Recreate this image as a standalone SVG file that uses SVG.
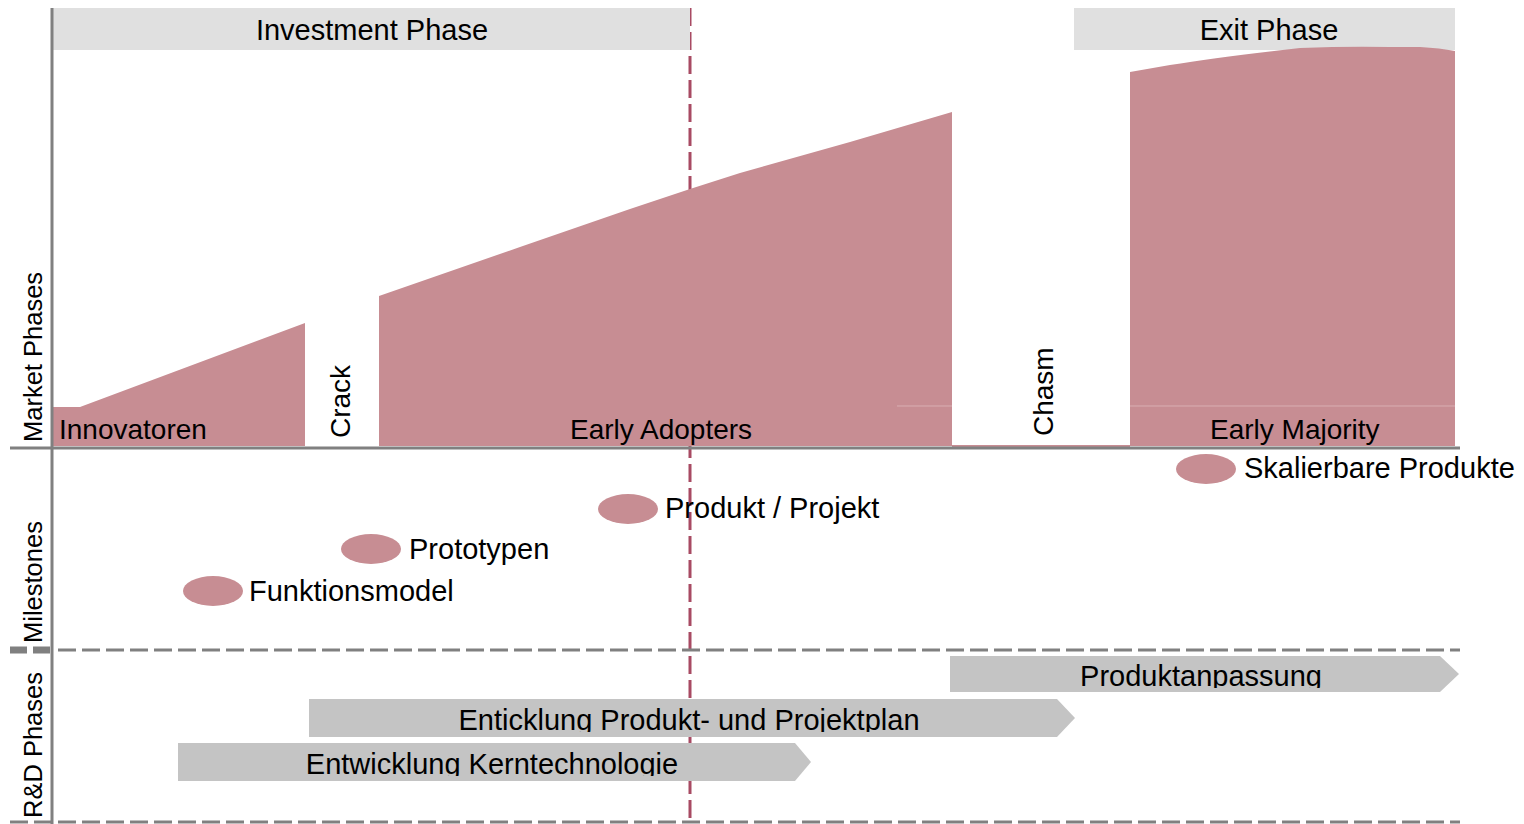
<svg xmlns="http://www.w3.org/2000/svg" width="1524" height="824" viewBox="0 0 1524 824">
  <style>
    text { font-family: "Liberation Sans", Arial, sans-serif; fill: #000; }
    .hdr { fill: #e0e0e0; }
    .area { fill: #c78d93; }
    .lbl { font-size: 28px; }
    .ms { font-size: 29px; }
    .axis-lbl { font-size: 25.5px; }
    .bar { fill: #c4c4c4; }
    .axis { stroke: #808080; stroke-width: 3; fill: none; }
    .dash { stroke: #808080; stroke-width: 3; stroke-dasharray: 18 6; fill: none; }
    .marker-line { stroke: #a84a63; stroke-width: 3; stroke-dasharray: 18 6; fill: none; }
    .dot { fill: #c78d93; }
  </style>
  <defs>
    <clipPath id="clip-bar1"><rect x="940" y="650" width="520" height="38"/></clipPath>
    <clipPath id="clip-bar2"><rect x="300" y="695" width="780" height="37"/></clipPath>
    <clipPath id="clip-bar3"><rect x="170" y="740" width="650" height="36"/></clipPath>
  </defs>

  <rect width="1524" height="824" fill="#ffffff"/>

  <!-- milestone marker line (behind the market areas) -->
  <line class="marker-line" x1="690" y1="8" x2="690" y2="824"/>

  <!-- phase headers -->
  <g id="investment-phase">
    <rect class="hdr" x="53" y="8" width="637" height="42"/>
    <text class="ms" x="372" y="40" text-anchor="middle">Investment Phase</text>
  </g>
  <g id="exit-phase">
    <rect class="hdr" x="1074" y="8" width="381" height="42"/>
    <text class="ms" x="1269" y="40" text-anchor="middle">Exit Phase</text>
  </g>

  <!-- market phases -->
  <g id="innovatoren">
    <path class="area" d="M53,407 L80,407 L305,323 L305,446 L53,446 Z"/>
    <text class="lbl" x="59" y="439">Innovatoren</text>
  </g>
  <g id="crack">
    <text class="lbl" transform="translate(350,438) rotate(-90)">Crack</text>
  </g>
  <g id="early-adopters">
    <path class="area" d="M379,296 L520,247 L630,209 L690,189 L740,173 L850,142 L952,112 L952,446 L379,446 Z"/>
    <line x1="897" y1="406" x2="952" y2="406" stroke="#d9aeb2" stroke-width="1"/>
    <text class="lbl" x="570" y="439">Early Adopters</text>
  </g>
  <g id="chasm">
    <rect class="area" x="952" y="445" width="178" height="2"/>
    <text class="lbl" transform="translate(1053,436) rotate(-90)">Chasm</text>
  </g>
  <g id="early-majority">
    <path class="area" d="M1130,72 L1170,65 Q1220,57 1300,48 Q1350,46 1390,47 L1420,47 Q1440,48 1455,51 L1455,446 L1130,446 Z"/>
    <line x1="1130" y1="406" x2="1455" y2="406" stroke="#d9aeb2" stroke-width="1"/>
    <text class="lbl" x="1210" y="439">Early Majority</text>
  </g>

  <!-- grid: axes and row dividers -->
  <g id="connectors">
    <line class="axis" x1="52" y1="8" x2="52" y2="824"/>
    <line class="axis" x1="10" y1="448" x2="1460" y2="448"/>
    <line x1="10" y1="650" x2="50" y2="650" stroke="#808080" stroke-width="7" stroke-dasharray="17 6"/>
    <line class="dash" x1="58" y1="650" x2="1460" y2="650"/>
    <line class="dash" x1="10" y1="822" x2="1460" y2="822"/>
  </g>

  <!-- row labels -->
  <g id="row-labels">
    <text class="axis-lbl" transform="translate(42,442) rotate(-90)">Market  Phases</text>
    <text class="axis-lbl" transform="translate(42,643) rotate(-90)">Milestones</text>
    <text class="axis-lbl" transform="translate(42,818) rotate(-90)">R&amp;D Phases</text>
  </g>

  <!-- milestones -->
  <g id="funktionsmodel">
    <ellipse class="dot" cx="213" cy="591" rx="30" ry="15"/>
    <text class="ms" x="249" y="601">Funktionsmodel</text>
  </g>
  <g id="prototypen">
    <ellipse class="dot" cx="371" cy="549" rx="30" ry="15"/>
    <text class="ms" x="409" y="559">Prototypen</text>
  </g>
  <g id="produkt-projekt">
    <ellipse class="dot" cx="628" cy="509" rx="30" ry="15"/>
    <text class="ms" x="665" y="518">Produkt / Projekt</text>
  </g>
  <g id="skalierbare-produkte">
    <ellipse class="dot" cx="1206" cy="469" rx="30" ry="15"/>
    <text class="ms" x="1244" y="478">Skalierbare Produkte</text>
  </g>

  <!-- R&D phases -->
  <g id="produktanpassung">
    <path class="bar" d="M950,656 L1440,656 L1459,674 L1440,692 L950,692 Z"/>
    <text class="ms" x="1201" y="686" text-anchor="middle" clip-path="url(#clip-bar1)">Produktanpassung</text>
  </g>
  <g id="produkt-projektplan">
    <path class="bar" d="M309,699 L1057,699 L1075,718 L1057,737 L309,737 Z"/>
    <text class="ms" x="689" y="730" text-anchor="middle" clip-path="url(#clip-bar2)">Enticklung Produkt- und Projektplan</text>
  </g>
  <g id="kerntechnologie">
    <path class="bar" d="M178,743 L795,743 L811,762 L795,781 L178,781 Z"/>
    <text class="ms" x="492" y="774" text-anchor="middle" clip-path="url(#clip-bar3)">Entwicklung Kerntechnologie</text>
  </g>
</svg>
